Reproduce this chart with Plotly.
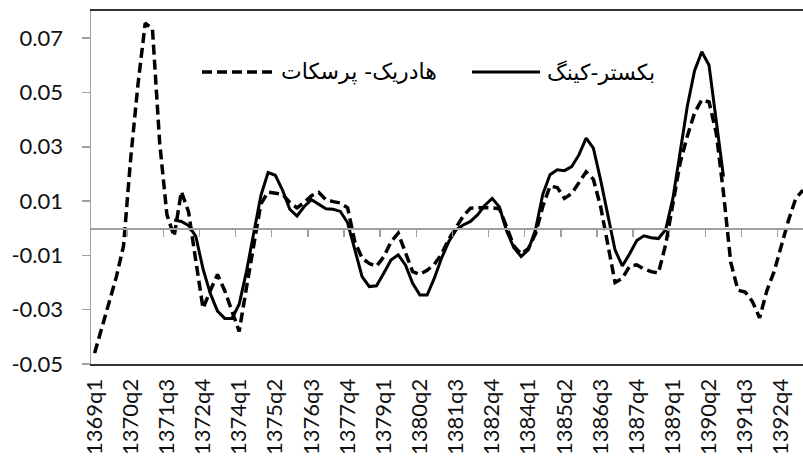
import plotly.graph_objects as go

# ---------------- data ----------------
years = list(range(1369, 1394))
quarters = [f"{y}q{q}" for y in years for q in range(1, 5)][:99]   # 1369q1 .. 1393q3

x_tick_labels = ["1369q1", "1370q2", "1371q3", "1372q4", "1374q1", "1375q2", "1376q3",
                 "1377q4", "1379q1", "1380q2", "1381q3", "1382q4", "1384q1", "1385q2",
                 "1386q3", "1387q4", "1389q1", "1390q2", "1391q3", "1392q4"]
y_tick_values = [-0.05, -0.03, -0.01, 0.01, 0.03, 0.05, 0.07]
y_tick_labels = ["-0.05", "-0.03", "-0.01", "0.01", "0.03", "0.05", "0.07"]

hp_name = "هادریک- پرسکات"
bk_name = "بکستر-کینگ"

# Hodrick-Prescott cycle (dashed), 1369q1 .. 1393q3
hp_values = [
    -0.046, -0.037, -0.028, -0.018, -0.0065, 0.026, 0.053, 0.0755, 0.0735, 0.0315,
    0.005, -0.003, 0.0135, 0.006, -0.012, -0.0295, -0.023, -0.017, -0.023, -0.031,
    -0.038, -0.022, -0.006, 0.009, 0.0133, 0.013, 0.0125, 0.0095, 0.0075, 0.0095,
    0.012, 0.0132, 0.0105, 0.0098, 0.0093, 0.0075, -0.005, -0.011, -0.013, -0.014,
    -0.0105, -0.005, -0.0018, -0.009, -0.016, -0.017, -0.0155, -0.0133, -0.0095, -0.004,
    0.0005, 0.0045, 0.0074, 0.0076, 0.0076, 0.0075, 0.0072, 0.0005, -0.0065, -0.0095,
    -0.0075, -0.002, 0.008, 0.0155, 0.015, 0.011, 0.0128, 0.0168, 0.0208, 0.018,
    0.008, -0.006, -0.020, -0.0185, -0.014, -0.0135, -0.015, -0.016, -0.0165, -0.006,
    0.009, 0.024, 0.034, 0.0425, 0.0473, 0.0465, 0.035, 0.013, -0.0125, -0.0228,
    -0.0235, -0.027, -0.033, -0.023, -0.016, -0.006, 0.003, 0.011, 0.014,
]

# Baxter-King cycle (solid), 1371q4 .. 1390q4
bk_first = "1371q4"
bk_values = [
    0.003, 0.0025, 0.001, -0.003, -0.015, -0.024, -0.0305, -0.0332, -0.0332, -0.028,
    -0.016, -0.002, 0.012, 0.0205, 0.0195, 0.014, 0.007, 0.0045, 0.008, 0.0105,
    0.009, 0.0072, 0.007, 0.0062, 0.002, -0.008, -0.0178, -0.0215, -0.0212, -0.0166,
    -0.0117, -0.0098, -0.0135, -0.0203, -0.0246, -0.0246, -0.0184, -0.011, -0.0049, -0.0006,
    0.0012, 0.0025, 0.005, 0.0085, 0.011, 0.0078, -0.001, -0.0072, -0.0104, -0.008,
    -0.0005, 0.0125, 0.0197, 0.0215, 0.0212, 0.0227, 0.027, 0.0332, 0.0295, 0.0178,
    0.0043, -0.008, -0.0139, -0.0095, -0.0045, -0.0028, -0.0035, -0.0038, -0.0005, 0.011,
    0.028, 0.045, 0.058, 0.065, 0.060, 0.040, 0.019,
]
bk_start = quarters.index(bk_first)
bk_quarters = quarters[bk_start:bk_start + len(bk_values)]

# ---------------- figure ----------------
W, H = 803, 463
ML, MR, MT, MB = 91, 0, 11, 99
plot_w, plot_h = W - ML - MR, H - MT - MB
y_min, y_max = -0.05, 0.08
x_lo, x_hi = -0.5, 98.0

FONT = "Lato, 'Open Sans', sans-serif"
GRAY = "#a0a0a0"
DASH = "10px,5px"

fig = go.Figure()
fig.add_trace(go.Scatter(x=quarters, y=hp_values, mode="lines", name=hp_name,
                         line=dict(color="black", width=3.5, dash=DASH),
                         showlegend=False))
fig.add_trace(go.Scatter(x=bk_quarters, y=bk_values, mode="lines", name=bk_name,
                         line=dict(color="black", width=3),
                         showlegend=False))
# invisible helper so the zero-line axis (xaxis2) gets drawn
fig.add_trace(go.Scatter(x=list(range(len(quarters))), y=hp_values, xaxis="x2",
                         mode="none", hoverinfo="skip", showlegend=False))


def px_x(p):
    return (p - ML) / plot_w


def px_y(p):
    return (H - MB - p) / plot_h


leg_y = px_y(72)
shapes = [
    dict(type="line", xref="paper", yref="paper", x0=px_x(202), x1=px_x(277),
         y0=leg_y, y1=leg_y, line=dict(color="black", width=3.5, dash=DASH)),
    dict(type="line", xref="paper", yref="paper", x0=px_x(472), x1=px_x(540),
         y0=leg_y, y1=leg_y, line=dict(color="black", width=3)),
]
annotations = [
    dict(text=hp_name, xref="paper", yref="paper", x=px_x(279), y=leg_y,
         xanchor="left", yanchor="middle", showarrow=False,
         font=dict(family="DejaVu Sans", size=22, color="black")),
    dict(text=bk_name, xref="paper", yref="paper", x=px_x(545), y=leg_y,
         xanchor="left", yanchor="middle", showarrow=False,
         font=dict(family="DejaVu Sans", size=22, color="black")),
]

zero_pos = (0 - y_min) / (y_max - y_min)
boundary_ticks = [k * 5 - 0.5 for k in range(1, 20)]

fig.update_layout(
    width=W, height=H,
    margin=dict(l=ML, r=MR, t=MT, b=MB, autoexpand=False),
    paper_bgcolor="white", plot_bgcolor="white",
    font=dict(family=FONT, size=22, color="#111111"),
    showlegend=False,
    shapes=shapes,
    annotations=annotations,
    xaxis=dict(
        type="category", range=[x_lo, x_hi],
        tickmode="array", tickvals=x_tick_labels, ticktext=x_tick_labels,
        tickangle=-90, ticks="", ticklabelstandoff=4,
        tickfont=dict(family=FONT, size=22, color="#111111"),
        showline=True, linecolor="#333333", linewidth=2, mirror=True,
        showgrid=False, zeroline=False,
    ),
    xaxis2=dict(
        overlaying="x", anchor="free", position=zero_pos, side="bottom",
        type="linear", range=[x_lo, x_hi],
        tickmode="array", tickvals=boundary_ticks, showticklabels=False,
        ticks="outside", ticklen=7, tickwidth=1.5, tickcolor=GRAY,
        showline=True, linecolor=GRAY, linewidth=1.5,
        showgrid=False, zeroline=False,
    ),
    yaxis=dict(
        range=[y_min, y_max],
        tickmode="array", tickvals=y_tick_values, ticktext=y_tick_labels,
        ticks="outside", ticklen=8, tickwidth=1.5, tickcolor=GRAY,
        ticklabelstandoff=14,
        tickfont=dict(family=FONT, size=22, color="#111111"),
        showline=True, linecolor=GRAY, linewidth=1.5, mirror=False,
        showgrid=False, zeroline=False,
    ),
)

fig.write_html("out.html",
               config={"displayModeBar": False, "staticPlot": True},
               post_script="document.body.style.margin='0';document.body.style.overflow='hidden';")
